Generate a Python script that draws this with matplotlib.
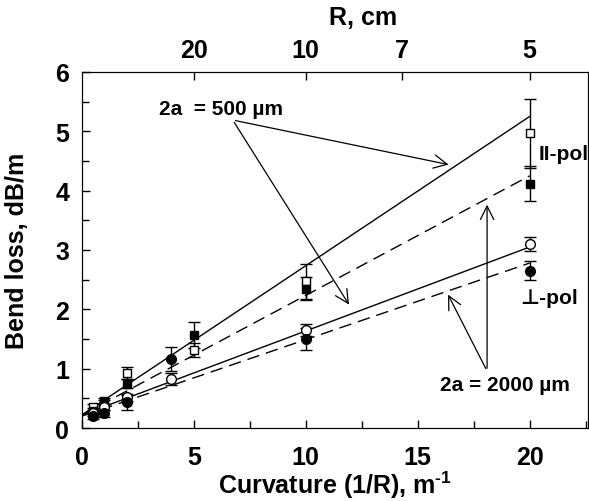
import numpy as np
import matplotlib
matplotlib.use('Agg')
import matplotlib.pyplot as plt

plt.rcParams['font.family'] = ['Liberation Sans', 'DejaVu Sans']
plt.rcParams['font.weight'] = 'bold'
plt.rcParams['mathtext.fontset'] = 'custom'
plt.rcParams['mathtext.rm'] = 'Liberation Sans:bold'
plt.rcParams['mathtext.bf'] = 'Liberation Sans:bold'

# II-pol, 2a = 500 um (open squares) / 2000 um (filled squares)
sq_x = [0.5, 1, 2, 5, 10, 20]
sq_open_y = [0.35, 0.42, 0.92, 1.32, 2.47, 4.97]
sq_open_err = [0.05, 0.05, 0.10, 0.12, 0.30, 0.58]
sq_fill_y = [0.28, 0.45, 0.75, 1.57, 2.35, 4.12]
sq_fill_err = [0.05, 0.05, 0.08, 0.22, 0.20, 0.30]

# perp-pol, 2a = 500 um (open circles) / 2000 um (filled circles)
ci_x = [0.5, 1, 2, 4, 10, 20]
ci_open_y = [0.25, 0.35, 0.52, 0.83, 1.65, 3.10]
ci_open_err = [0.04, 0.05, 0.06, 0.10, 0.10, 0.12]
ci_fill_y = [0.20, 0.25, 0.43, 1.16, 1.50, 2.65]
ci_fill_err = [0.04, 0.06, 0.13, 0.20, 0.18, 0.16]

# linear fits: intercept, slope
fit_b = [0.22, 0.22, 0.22, 0.20]
fit_m = [0.2515, 0.2015, 0.1415, 0.129]
fit_style = ['-', (0, (9, 5)), '-', (0, (9, 5))]

r_ticks = [20, 10, 7, 5]

fig = plt.figure(figsize=(5.89, 5.02), dpi=100)
ax = fig.add_axes([0.139, 0.1454, 0.859, 0.7092])

xf = np.array([0, 20])
for b, m, ls in zip(fit_b, fit_m, fit_style):
    ax.plot(xf, b + m * xf, color='black', lw=1.0, linestyle=ls)

ekw = dict(color='black', ecolor='black', elinewidth=1.0, capsize=4, capthick=1.0, linestyle='none')
ax.errorbar(sq_x, sq_open_y, yerr=sq_open_err, marker='s', ms=6, mfc='white', mec='black', mew=1.0, **ekw)
ax.errorbar(sq_x, sq_fill_y, yerr=sq_fill_err, marker='s', ms=6, mfc='black', mec='black', **ekw)
ax.errorbar(ci_x, ci_open_y, yerr=ci_open_err, marker='o', ms=7, mfc='white', mec='black', mew=1.0, **ekw)
ax.errorbar(ci_x, ci_fill_y, yerr=ci_fill_err, marker='o', ms=7, mfc='black', mec='black', **ekw)

ax.set_xlim(0, 22.6)
ax.set_ylim(0, 6)
ax.set_xticks([0, 5, 10, 15, 20])
ax.set_xticks(np.arange(2.5, 22.6, 5), minor=True)
ax.set_yticks(range(7))
ax.set_yticks(np.arange(0.5, 6, 1), minor=True)
ax.tick_params(which='both', direction='in', labelsize=18, width=1)
ax.tick_params(which='major', length=6)
ax.tick_params(which='minor', length=5)
ax.tick_params(axis='x', pad=12)
ax.tick_params(axis='y', pad=9)
for lab in ax.get_xticklabels() + ax.get_yticklabels():
    lab.set_fontweight('bold')

ax.set_xlabel('Curvature (1/R), m$^{\\text{-1}}$', fontsize=18, fontweight='bold', labelpad=0)
ax.set_ylabel('Bend loss, dB/m', fontsize=18, fontweight='bold')
ax.yaxis.set_label_coords(-0.104, 0.5)

ax2 = ax.twiny()
ax2.set_xlim(ax.get_xlim())
ax2.set_xticks([100 / r for r in r_ticks])
ax2.set_xticklabels([str(r) for r in r_ticks], fontsize=18, fontweight='bold')
ax2.tick_params(direction='in', length=6, width=1, pad=7)
fig.text(363 / 589, 1 - 18 / 502, 'R, cm', fontsize=18, fontweight='bold', ha='center', va='center')

arr = dict(arrowstyle='->', color='black', lw=0.9, mutation_scale=24)
ax.text(6.2, 5.38, '2a  = 500 \u00b5m', fontsize=15, fontweight='bold', ha='center', va='center')
ax.annotate('', xy=(16.5, 4.43), xytext=(6.74, 5.19), arrowprops=arr)
ax.annotate('', xy=(12.0, 2.04), xytext=(6.74, 5.19), arrowprops=arr)

ax.text(18.9, 0.74, '2a = 2000 \u00b5m', fontsize=15, fontweight='bold', ha='center', va='center')
ax.annotate('', xy=(16.3, 2.29), xytext=(18.1, 0.96), arrowprops=arr)
ax.annotate('', xy=(18.1, 3.81), xytext=(18.1, 0.96), arrowprops=arr)

ax.text(20.4, 4.62, 'II-pol', fontsize=15, fontweight='bold', ha='left', va='center')
ax.text(19.6, 2.2, '\u22a5-pol', fontsize=15, fontweight='bold', ha='left', va='center')

fig.savefig('out.png', dpi=100)
